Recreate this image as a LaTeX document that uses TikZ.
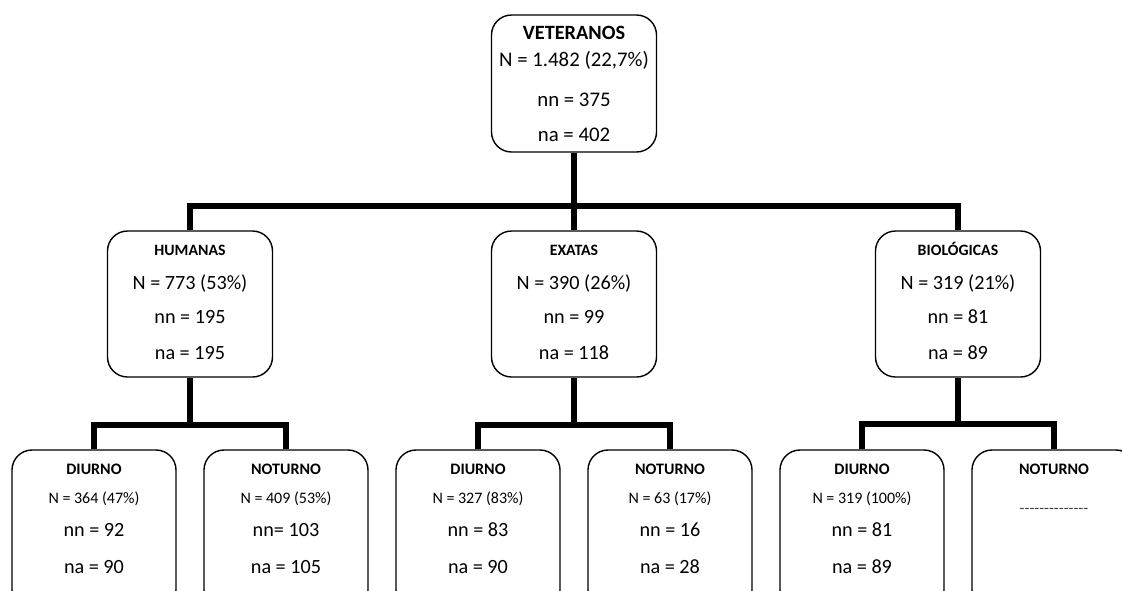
\documentclass[tikz,border=0pt]{standalone}
\usepackage{fontspec}
\setmainfont{Carlito}
\newcommand\hy{\mbox{-}}
\begin{document}
\begin{tikzpicture}[x=1pt,y=-1pt,
  box/.style={draw, line width=1.4pt, rounded corners=20pt, minimum width=165pt, inner sep=0pt},
  topbox/.style={box, minimum height=137pt},
  midbox/.style={box, minimum height=146pt},
  lowbox/.style={box, minimum width=164pt, minimum height=160pt},
  conn/.style={line width=6pt},
  big/.style={anchor=base, inner sep=0pt, font=\fontsize{20.2}{22}\selectfont},
  bigtop/.style={anchor=base, inner sep=0pt, font=\fontsize{20.8}{22}\selectfont},
  small/.style={anchor=base, inner sep=0pt, font=\fontsize{16}{18}\selectfont},
  hdtop/.style={anchor=base, inner sep=0pt, font=\bfseries\fontsize{20.3}{22}\selectfont},
  hdmid/.style={anchor=base, inner sep=0pt, font=\bfseries\fontsize{15.8}{18}\selectfont},
  hdlow/.style={anchor=base, inner sep=0pt, font=\bfseries\fontsize{16}{18}\selectfont}]
\useasboundingbox (0,0) rectangle (1122,590);
\fill[white] (0,0) rectangle (1122,590);
\clip (0,0) rectangle (1122,590);

% top
\node[topbox] (vet) at (574,83.5) {};
\node[hdtop] (vetT) at (574,39) {VETERANOS};
\node[bigtop] (vetN) at (574,66.7) {N = 1.482 (22,7\%)};
\node[bigtop] (vetnn) at (574,106) {nn = 375};
\node[bigtop] (vetna) at (574,141) {na = 402};

% middle
\node[midbox] (hum) at (190,304) {};
\node[hdmid] (humT) at (190,255.5) {HUMANAS};
\node[big] (humN) at (190,289) {N = 773 (53\%)};
\node[big] (humnn) at (190,323.5) {nn = 195};
\node[big] (humna) at (190,359) {na = 195};

\node[midbox] (exa) at (574,304) {};
\node[hdmid] (exaT) at (574,255.5) {EXATAS};
\node[big] (exaN) at (574,289) {N = 390 (26\%)};
\node[big] (exann) at (574,323.5) {nn = 99};
\node[big] (exana) at (574,359) {na = 118};

\node[midbox] (bio) at (958,304) {};
\node[hdmid] (bioT) at (958,255.5) {BIOLÓGICAS};
\node[big] (bioN) at (958,289) {N = 319 (21\%)};
\node[big] (bionn) at (958,323.5) {nn = 81};
\node[big] (biona) at (958,359) {na = 89};

% bottom
\node[lowbox] (dh) at (94,530) {};
\node[hdlow] (dhT) at (94,474.5) {DIURNO};
\node[small] (dhN) at (94,503.5) {N = 364 (47\%)};
\node[big] (dhnn) at (94,536.5) {nn = 92};
\node[big] (dhna) at (94,573) {na = 90};

\node[lowbox] (nh) at (286,530) {};
\node[hdlow] (nhT) at (286,474.5) {NOTURNO};
\node[small] (nhN) at (286,503.5) {N = 409 (53\%)};
\node[big] (nhnn) at (286,536.5) {nn= 103};
\node[big] (nhna) at (286,573) {na = 105};

\node[lowbox] (de) at (478,530) {};
\node[hdlow] (deT) at (478,474.5) {DIURNO};
\node[small] (deN) at (478,503.5) {N = 327 (83\%)};
\node[big] (denn) at (478,536.5) {nn = 83};
\node[big] (dena) at (478,573) {na = 90};

\node[lowbox] (ne) at (670,530) {};
\node[hdlow] (neT) at (670,474.5) {NOTURNO};
\node[small] (neN) at (670,503.5) {N = 63 (17\%)};
\node[big] (nenn) at (670,536.5) {nn = 16};
\node[big] (nena) at (670,573) {na = 28};

\node[lowbox] (db) at (862,530) {};
\node[hdlow] (dbT) at (862,474.5) {DIURNO};
\node[small] (dbN) at (862,503.5) {N = 319 (100\%)};
\node[big] (dbnn) at (862,536.5) {nn = 81};
\node[big] (dbna) at (862,573) {na = 89};

\node[lowbox] (nb) at (1054,530) {};
\node[hdlow] (nbT) at (1054,474.5) {NOTURNO};
\node[small, text=black!75] (nbN) at (1054,513) {\hy\hy\hy\hy\hy\hy\hy\hy\hy\hy\hy\hy\hy\hy};

% connectors
\coordinate (j0) at (574,206);
\coordinate (jh) at (190,424.5);
\coordinate (je) at (574,424.5);
\coordinate (jb) at (958,423.5);
\draw[conn] (vet.south) -- (exa.north);
\draw[conn] (hum.north) |- (j0) -| (bio.north);
\draw[conn] (hum.south) -- (jh);
\draw[conn] (dh.north) |- (jh) -| (nh.north);
\draw[conn] (exa.south) -- (je);
\draw[conn] (de.north) |- (je) -| (ne.north);
\draw[conn] (bio.south) -- (jb);
\draw[conn] (db.north) |- (jb) -| (nb.north);
\end{tikzpicture}
\end{document}
